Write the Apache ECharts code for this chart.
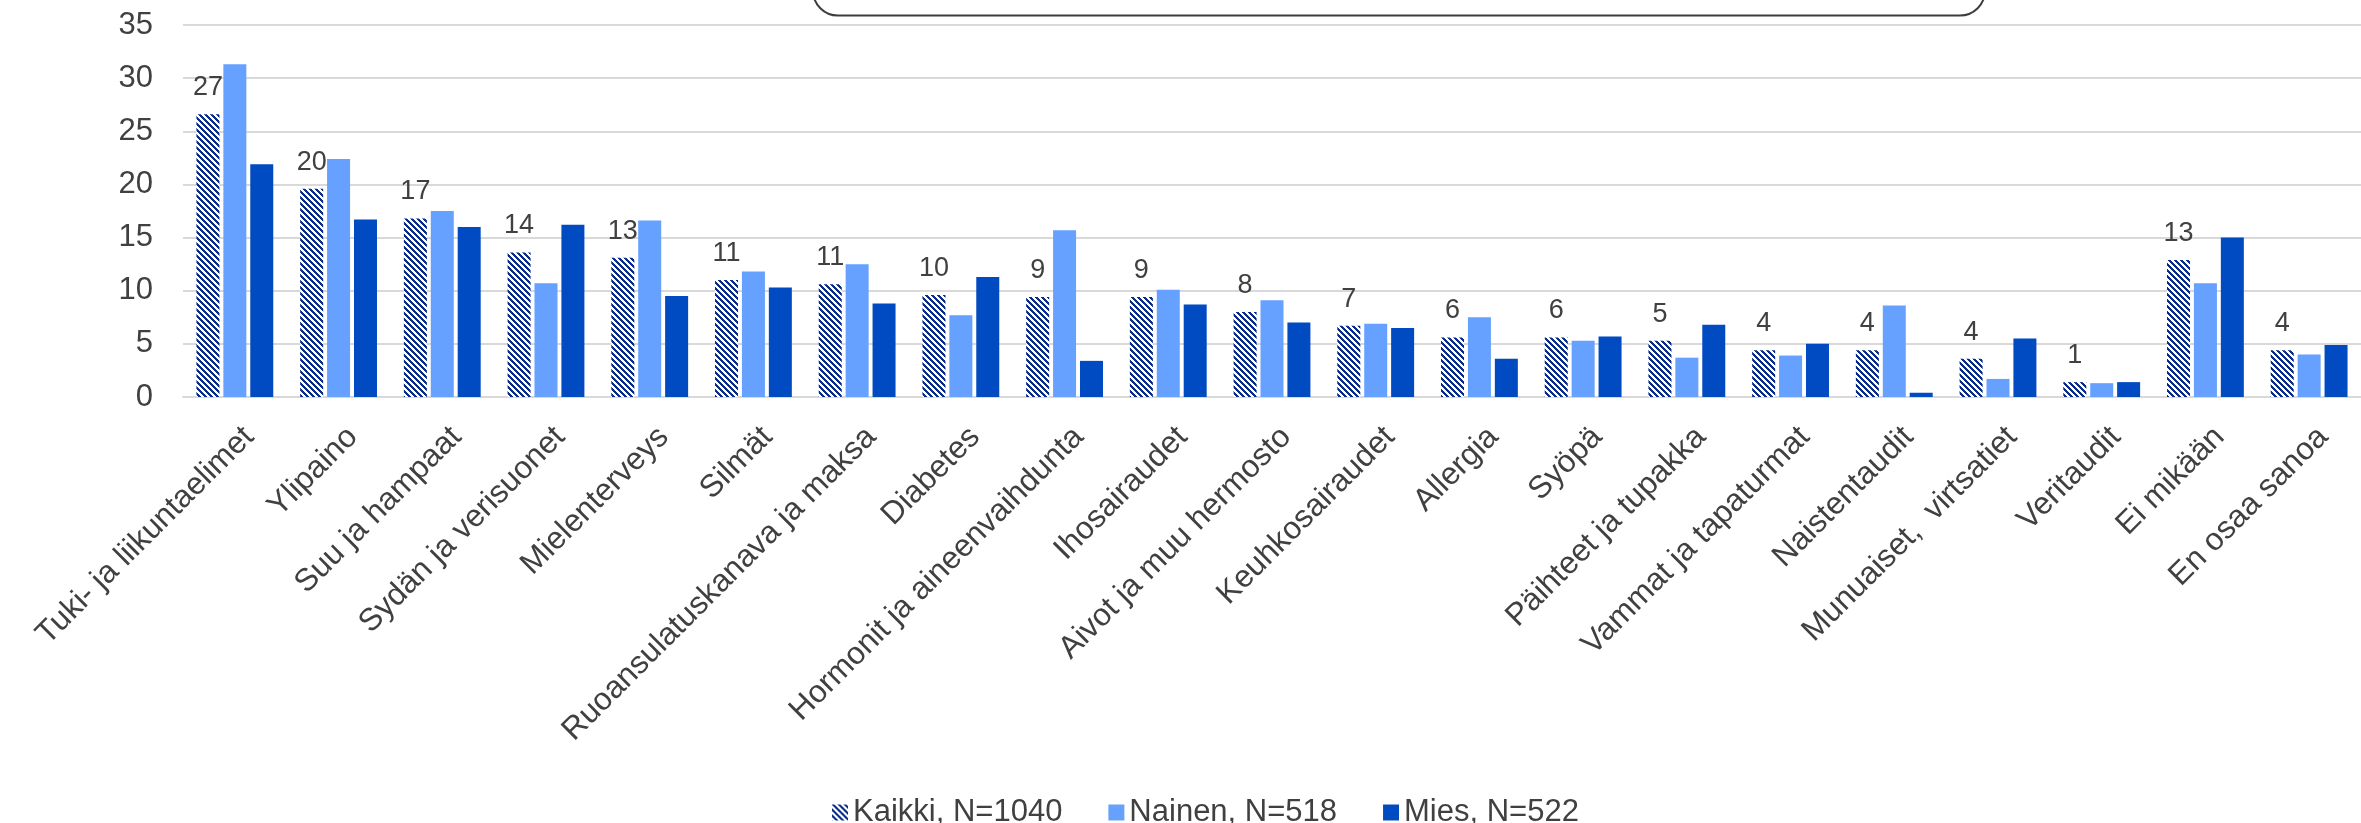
<!DOCTYPE html>
<html>
<head>
<meta charset="utf-8">
<script src="https://cdn.jsdelivr.net/npm/echarts@6/dist/echarts.min.js"></script>
<style>
  html, body { margin: 0; padding: 0; background: #ffffff; }
  #chart { width: 2361px; height: 823px; }
</style>
</head>
<body>
<div id="chart"></div>
<script>
// Health areas (categories along the x axis)
const categories = [
  'Tuki- ja liikuntaelimet', 'Ylipaino', 'Suu ja hampaat', 'Sydän ja verisuonet',
  'Mielenterveys', 'Silmät', 'Ruoansulatuskanava ja maksa', 'Diabetes',
  'Hormonit ja aineenvaihdunta', 'Ihosairaudet', 'Aivot ja muu hermosto',
  'Keuhkosairaudet', 'Allergia', 'Syöpä', 'Päihteet ja tupakka',
  'Vammat ja tapaturmat', 'Naistentaudit', 'Munuaiset,  virtsatiet',
  'Veritaudit', 'Ei mikään', 'En osaa sanoa'
];

// Series names
const seriesNames = ['Kaikki, N=1040', 'Nainen, N=518', 'Mies, N=522'];

// Percentages per series
const kaikki = [26.6, 19.6, 16.8, 13.6, 13.1, 11.0, 10.6, 9.6, 9.4, 9.4, 8.0,
                6.7, 5.6, 5.6, 5.3, 4.4, 4.4, 3.6, 1.4, 12.9, 4.4];
const nainen = [31.3, 22.4, 17.5, 10.7, 16.6, 11.8, 12.5, 7.7, 15.7, 10.1, 9.1,
                6.9, 7.5, 5.3, 3.7, 3.9, 8.6, 1.7, 1.3, 10.7, 4.0];
const mies   = [21.9, 16.7, 16.0, 16.2, 9.5, 10.3, 8.8, 11.3, 3.4, 8.7, 7.0,
                6.5, 3.6, 5.7, 6.8, 5.0, 0.4, 5.5, 1.4, 15.0, 4.9];

// Value axis ticks
const yMin = 0, yMax = 35, yStep = 5;

const FONT = '"Liberation Sans", Arial, sans-serif';
const TEXT = '#404040';
const GRID = '#d9d9d9';

// Downward diagonal hatch used for the "Kaikki" bars
function makeHatch() {
  const size = 6;
  const c = document.createElement('canvas');
  c.width = size; c.height = size;
  const ctx = c.getContext('2d');
  ctx.fillStyle = '#ffffff';
  ctx.fillRect(0, 0, size, size);
  ctx.fillStyle = '#0a2d8c';
  for (let y = 0; y < size; y++) {
    for (let x = 0; x < size; x++) {
      if (((x - y) % size + size) % size < 3) ctx.fillRect(x, y, 1, 1);
    }
  }
  return { image: c, repeat: 'repeat' };
}
const hatch = makeHatch();

const chart = echarts.init(document.getElementById('chart'), null, { renderer: 'canvas' });

chart.setOption({
  animation: false,
  backgroundColor: '#ffffff',
  textStyle: { fontFamily: FONT },
  graphic: [{
    type: 'rect',
    shape: { x: 813, y: -60, width: 1172, height: 75.5, r: 25 },
    style: { fill: 'none', stroke: '#3d3d3d', lineWidth: 2 },
    silent: true
  }],
  legend: {
    left: 827,
    top: 792,
    itemWidth: 16,
    itemHeight: 16,
    itemGap: 46,
    icon: 'rect',
    textStyle: { fontSize: 31, color: TEXT, fontFamily: FONT },
    data: seriesNames
  },
  grid: { left: 183, top: 25, width: 2195, height: 372, containLabel: false },
  xAxis: {
    type: 'category',
    data: categories,
    axisTick: { show: false },
    axisLine: { lineStyle: { color: GRID, width: 2 } },
    axisLabel: {
      interval: 0,
      rotate: 45,
      margin: 21,
      verticalAlign: 'top',
      lineHeight: 40,
      fontSize: 31.5,
      color: TEXT,
      fontFamily: FONT
    }
  },
  yAxis: {
    type: 'value',
    min: yMin,
    max: yMax,
    interval: yStep,
    axisLine: { show: false },
    axisTick: { show: false },
    splitLine: { lineStyle: { color: GRID, width: 2 } },
    axisLabel: { fontSize: 31, color: TEXT, margin: 30, fontFamily: FONT }
  },
  series: [
    {
      name: seriesNames[0],
      type: 'bar',
      data: kaikki,
      barWidth: 23,
      barGap: '17%',
      itemStyle: { color: hatch },
      label: {
        show: true,
        position: 'top',
        distance: 13,
        fontSize: 27,
        color: TEXT,
        fontFamily: FONT,
        formatter: p => String(Math.round(p.value))
      }
    },
    {
      name: seriesNames[1],
      type: 'bar',
      data: nainen,
      barWidth: 23,
      barGap: '17%',
      itemStyle: { color: '#66a1ff' }
    },
    {
      name: seriesNames[2],
      type: 'bar',
      data: mies,
      barWidth: 23,
      barGap: '17%',
      itemStyle: { color: '#004bc1' }
    }
  ]
});
</script>
</body>
</html>
